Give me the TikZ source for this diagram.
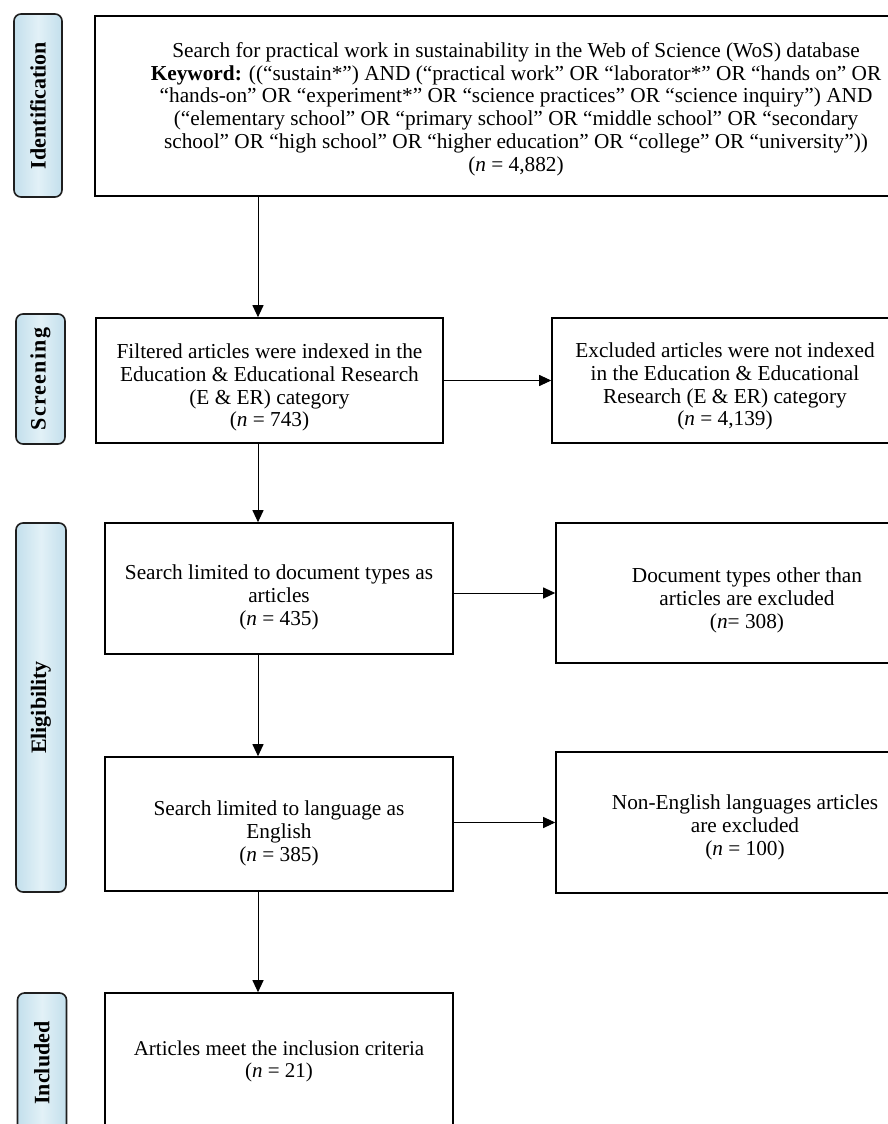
\documentclass[tikz,border=0pt]{standalone}
\usepackage{fontspec}
\setmainfont{Liberation Serif}
\usetikzlibrary{arrows.meta}
\definecolor{lblueA}{HTML}{C3DFEC}
\definecolor{lblueB}{HTML}{E2F1F7}
\definecolor{lborder}{HTML}{1E1E1E}
\newcommand\lowr[1]{\rule{0pt}{#1}}
\tikzset{
  stage/.style={draw=lborder, line width=1.6pt, rounded corners=7pt,
    left color=lblueA, right color=lblueA, middle color=lblueB,
    inner sep=0pt, font=\fontsize{22}{24}\selectfont\bfseries},
  flowbox/.style={draw=black, line width=1.6pt, fill=white, align=center,
    inner sep=0pt, font=\fontsize{21.3}{22.8}\selectfont},
  conn/.style={line width=1pt, -{Triangle[length=12pt,width=11pt]}}
}
\begin{document}
\begin{tikzpicture}[x=1pt,y=-1pt]
\useasboundingbox (0,0) rectangle (888,1124);
\clip (0,0) rectangle (888,1124);
\fill[white] (0,0) rectangle (888,1124);

% stage labels
\node[stage, minimum width=48, minimum height=183] (sid) at (38,105.5) {\rotatebox{90}{Identification}};
\node[stage, minimum width=49, minimum height=130] (sscr) at (40.5,379) {\rotatebox{90}{\addfontfeature{LetterSpace=6}Screening}};
\node[stage, minimum width=50, minimum height=369] (sel) at (41,707.5) {\rotatebox{90}{Eligibility}};
\node[stage, minimum width=49, minimum height=140] (sinc) at (42,1063) {\rotatebox{90}{Included}};

% boxes
\node[flowbox, minimum width=842, minimum height=180] (top) at (516,106)
{\lowr{21pt}Search for practical work in sustainability in the Web of Science (WoS) database\\
\textbf{Keyword:} ((“sustain*”) AND (“practical work” OR “laborator*” OR “hands on” OR\\
“hands-on” OR “experiment*” OR “science practices” OR “science inquiry”) AND\\
(“elementary school” OR “primary school” OR “middle school” OR “secondary\\
school” OR “high school” OR “higher education” OR “college” OR “university”))\\
(\textit{n} = 4,882)};

\node[flowbox, minimum width=347, minimum height=125] (scr) at (269.5,380.5)
{\lowr{29pt}Filtered articles were indexed in the\\ Education \& Educational Research\\ (E \& ER) category\\ (\textit{n} = 743)};
\node[flowbox, minimum width=346, minimum height=125] (exc1) at (725,380.5)
{\lowr{27pt}Excluded articles were not indexed\\ in the Education \& Educational\\ Research (E \& ER) category\\ (\textit{n} = 4,139)};

\node[flowbox, minimum width=348, minimum height=131] (el1) at (279,588.5)
{\lowr{33pt}Search limited to document types as\\ articles\\ (\textit{n} = 435)};
\node[flowbox, minimum width=382, minimum height=140] (exc2) at (747,593)
{\lowr{29pt}Document types other than\\ articles are excluded\\ (\textit{n}= 308)};

\node[flowbox, minimum width=348, minimum height=134] (el2) at (279,824)
{\lowr{33pt}Search limited to language as\\ English\\ (\textit{n} = 385)};
\node[flowbox, minimum width=378, minimum height=141] (exc3) at (745,822.5)
{\lowr{25pt}Non-English languages articles\\ are excluded\\ (\textit{n} = 100)};

\node[flowbox, minimum width=348, minimum height=137, font=\fontsize{21}{22}\selectfont] (inc) at (279,1061.5)
{Articles meet the inclusion criteria\\ (\textit{n} = 21)};

% connectors
\coordinate (ax) at (258,0);
\draw[conn] (top.south -| ax) -- (scr.north -| ax);
\draw[conn] (scr.south -| ax) -- (el1.north -| ax);
\draw[conn] (el1.south -| ax) -- (el2.north -| ax);
\draw[conn] (el2.south -| ax) -- (inc.north -| ax);

\draw[conn] (scr.east) -- (scr.east -| exc1.west);
\draw[conn] (exc2.west -| el1.east) -- (exc2.west);
\draw[conn] (exc3.west -| el2.east) -- (exc3.west);
\end{tikzpicture}
\end{document}
